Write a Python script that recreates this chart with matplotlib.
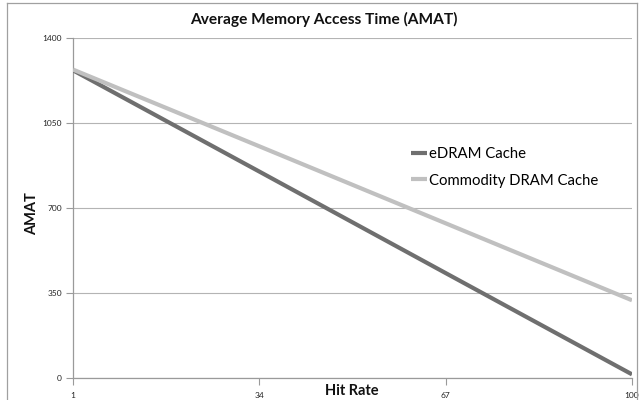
import matplotlib
matplotlib.use("Agg")
import matplotlib.pyplot as plt
from matplotlib.lines import Line2D

# Hit-rate categories shown on the x axis and AMAT readings at each of them
hit_rate_ticks = [1, 34, 67, 100]
edram_amat = [1267, 850, 432, 15]
commodity_amat = [1270, 954, 637, 320]
series_names = ["eDRAM Cache", "Commodity DRAM Cache"]
y_ticks = [0, 350, 700, 1050, 1400]

W, H = 639, 400
plt.rcParams["font.family"] = ["Lato", "DejaVu Sans"]

fig = plt.figure(figsize=(W / 100, H / 100), dpi=100)
fig.patch.set_facecolor("white")

def px(x, y):
    return x / W, 1 - y / H

left, right, top, bottom = 73, 632, 38, 378
ax = fig.add_axes([left / W, 1 - bottom / H, (right - left) / W, (bottom - top) / H])

axis_grey = "#9a9a9a"
grid_grey = "#b4b4b4"
dark_line = "#6f6f6f"
light_line = "#c0c0c0"

ax.plot(hit_rate_ticks, edram_amat, color=dark_line, lw=3.0,
        solid_capstyle="butt", label=series_names[0], zorder=3)
ax.plot(hit_rate_ticks, commodity_amat, color=light_line, lw=3.0,
        solid_capstyle="butt", label=series_names[1], zorder=3)

ax.set_xlim(1, 100)
ax.set_ylim(0, 1400)
ax.set_xticks(hit_rate_ticks)
ax.set_xticklabels([str(t) for t in hit_rate_ticks])
ax.set_yticks(y_ticks)
ax.set_yticklabels([str(t) for t in y_ticks])

for s in ["top", "right"]:
    ax.spines[s].set_visible(False)
for s in ["left", "bottom"]:
    ax.spines[s].set_color(axis_grey)
    ax.spines[s].set_linewidth(0.9)

ax.grid(axis="y", color=grid_grey, lw=0.8, zorder=0)
ax.set_axisbelow(True)
ax.tick_params(axis="both", colors=axis_grey, width=0.8, length=5, labelsize=6,
               labelcolor="#222222")
ax.tick_params(axis="x", pad=5)
ax.tick_params(axis="y", pad=3)

# Title and axis titles
fig.text(*px(324, 19), "Average Memory Access Time (AMAT)", ha="center", va="center",
         fontsize=11.2, fontweight="bold", color="#111111")
fig.text(*px(32, 214), "AMAT", ha="center", va="center", rotation=90,
         fontsize=10.5, fontweight="bold", color="#111111")
fig.text(*px(352, 391), "Hit Rate", ha="center", va="center",
         fontsize=10.5, fontweight="bold", color="#111111")

# Legend drawn without a frame
handles = [Line2D([], [], color=dark_line, lw=3.0, solid_capstyle="butt"),
           Line2D([], [], color=light_line, lw=3.0, solid_capstyle="butt")]
leg = fig.legend(handles, series_names, loc="upper left",
                 bbox_to_anchor=px(411, 147), frameon=False, fontsize=10.7,
                 handlelength=1.1, handletextpad=0.1, labelspacing=0.85,
                 borderpad=0, borderaxespad=0)

# Chart-area border
for (x0, y0, x1, y1) in [(6.5, 3, 6.5, 400), (6.5, 3, 637, 3), (637, 3, 637, 400)]:
    fig.add_artist(Line2D([x0 / W, x1 / W], [1 - y0 / H, 1 - y1 / H],
                          color="#a0a0a0", lw=0.9, transform=fig.transFigure))

fig.savefig("out.png", dpi=100, facecolor="white")
